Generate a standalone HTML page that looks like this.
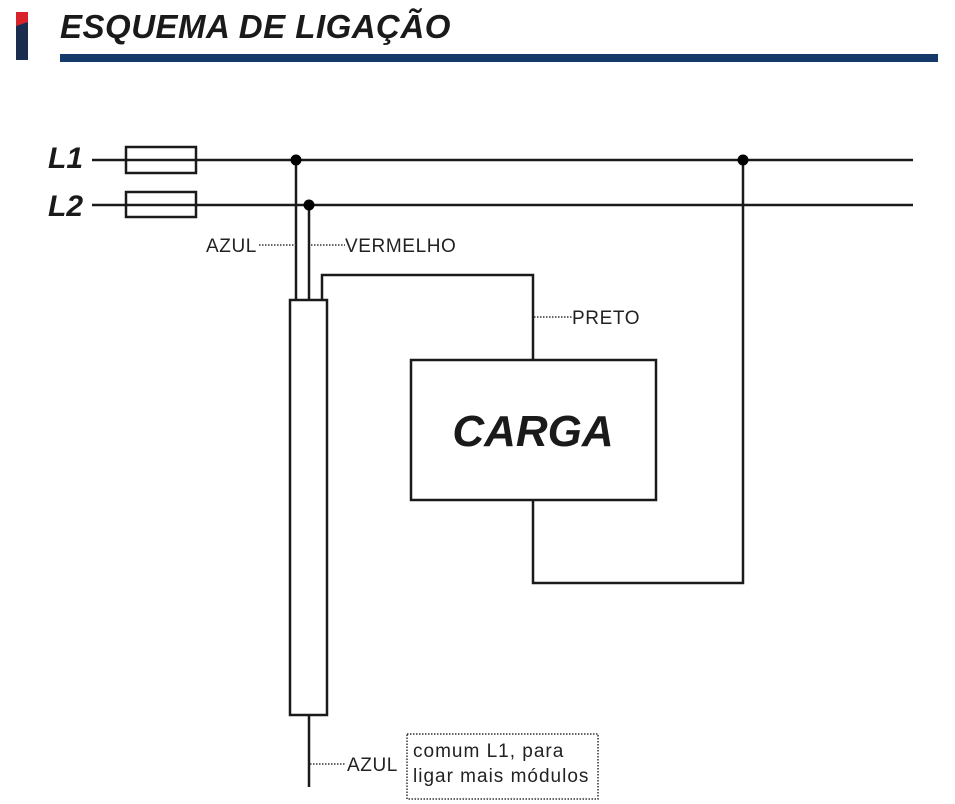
<!DOCTYPE html>
<html><head><meta charset="utf-8"><style>
body{margin:0;background:#fff;width:955px;height:804px;overflow:hidden}
svg{display:block}
</style></head><body>
<svg width="955" height="804" xmlns="http://www.w3.org/2000/svg" font-family="Liberation Sans, sans-serif">
<rect x="16" y="12" width="12" height="48" fill="#1b2d4f"/>
<path d="M16 12 H28 V22 L16 26 Z" fill="#d8232a"/>
<text x="60" y="38" font-size="33" font-weight="bold" font-style="italic" fill="#1a1a1a" letter-spacing="0.5">ESQUEMA DE LIGAÇÃO</text>
<rect x="60" y="54" width="878" height="8" fill="#143a6b"/>
<g stroke="#1a1a1a" stroke-width="2.5" fill="none">
<line x1="92" y1="160" x2="913" y2="160"/>
<line x1="92" y1="205" x2="913" y2="205"/>
<rect x="126" y="147" width="70" height="26" fill="#fff"/>
<rect x="126" y="192" width="70" height="25" fill="#fff"/>
<line x1="126" y1="160" x2="196" y2="160"/>
<line x1="126" y1="205" x2="196" y2="205"/>
<line x1="296" y1="160" x2="296" y2="300"/>
<line x1="309" y1="205" x2="309" y2="300"/>
<rect x="290" y="300" width="37" height="415"/>
<polyline points="322,300 322,275 533,275 533,360"/>
<rect x="411" y="360" width="245" height="140"/>
<polyline points="533,500 533,583 743,583 743,160"/>
<line x1="309" y1="715" x2="309" y2="787"/>
</g>
<g fill="#000"><circle cx="296" cy="160" r="5.5"/><circle cx="309" cy="205" r="5.5"/><circle cx="743" cy="160" r="5.5"/></g>
<g stroke="#333" stroke-width="1.5" stroke-dasharray="1.5,1.5" fill="none">
<line x1="259" y1="245" x2="296" y2="245"/>
<line x1="311" y1="245" x2="345" y2="245"/>
<line x1="534" y1="317" x2="572" y2="317"/>
<line x1="310" y1="764" x2="346" y2="764"/>
<rect x="407" y="734" width="191" height="65"/>
</g>
<text x="48" y="168" font-size="30" font-weight="bold" font-style="italic" fill="#1a1a1a">L1</text>
<text x="48" y="216" font-size="30" font-weight="bold" font-style="italic" fill="#1a1a1a">L2</text>
<g font-size="19" fill="#222" letter-spacing="0.6">
<text x="206" y="252">AZUL</text>
<text x="345" y="252">VERMELHO</text>
<text x="572" y="324">PRETO</text>
<text x="347" y="771">AZUL</text>
<text x="413" y="757" letter-spacing="1">comum L1, para</text>
<text x="413" y="782" letter-spacing="1">ligar mais módulos</text>
</g>
<text x="533" y="446" font-size="44" font-weight="bold" font-style="italic" text-anchor="middle" fill="#1a1a1a">CARGA</text>
</svg>
</body></html>
